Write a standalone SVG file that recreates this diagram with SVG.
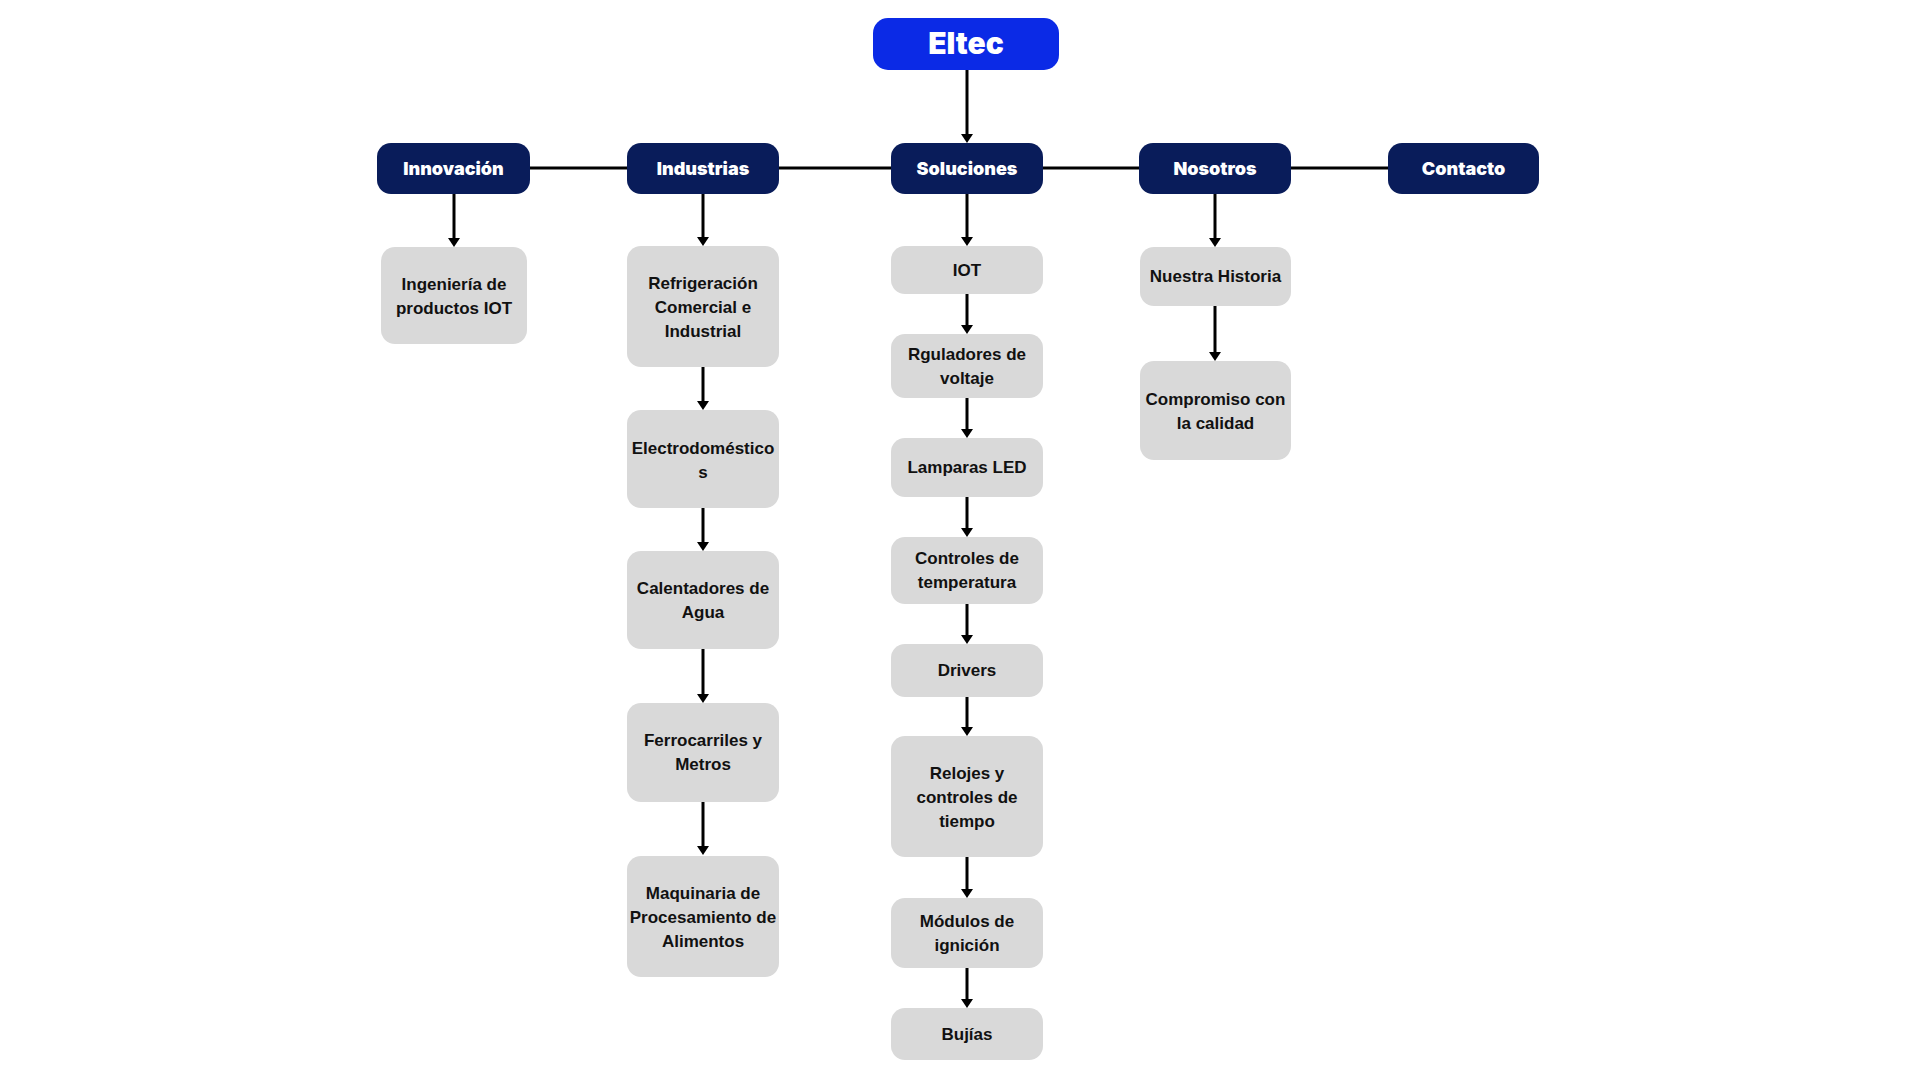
<svg xmlns="http://www.w3.org/2000/svg" width="1920" height="1080" viewBox="0 0 1920 1080">
<style>
.bg{fill:#ffffff}
.root rect{fill:#0b2ae6}
.root text{fill:#ffffff;font-family:Inter,"Liberation Sans",sans-serif;font-weight:900;font-size:30px;text-anchor:middle}
.hdr rect{fill:#091c5a}
.hdr text{fill:#ffffff;font-family:Inter,"Liberation Sans",sans-serif;font-weight:900;font-size:18px;text-anchor:middle}
.leaf rect{fill:#d9d9d9}
.leaf text{fill:#111111;font-family:"Liberation Sans",Arial,sans-serif;font-weight:bold;font-size:17px;text-anchor:middle}
.conn line{stroke:#000000;stroke-width:3}
</style>
<defs>
<marker id="ah" markerUnits="userSpaceOnUse" markerWidth="9" markerHeight="12" refX="1" refY="6" orient="auto">
<path d="M0,0 L9,6 L0,12 z" fill="#000000"/>
</marker>
</defs>
<rect class="bg" x="0" y="0" width="1920" height="1080"/>

<g id="connectors" class="conn">
<line x1="967" y1="70" x2="967" y2="135" marker-end="url(#ah)"/>
<line x1="530" y1="168" x2="627" y2="168"/>
<line x1="779" y1="168" x2="891" y2="168"/>
<line x1="1043" y1="168" x2="1139" y2="168"/>
<line x1="1291" y1="168" x2="1388" y2="168"/>
<line x1="454" y1="194" x2="454" y2="239" marker-end="url(#ah)"/>
<line x1="703" y1="194" x2="703" y2="238" marker-end="url(#ah)"/>
<line x1="703" y1="367" x2="703" y2="402" marker-end="url(#ah)"/>
<line x1="703" y1="508" x2="703" y2="543" marker-end="url(#ah)"/>
<line x1="703" y1="649" x2="703" y2="695" marker-end="url(#ah)"/>
<line x1="703" y1="802" x2="703" y2="847" marker-end="url(#ah)"/>
<line x1="967" y1="194" x2="967" y2="238" marker-end="url(#ah)"/>
<line x1="967" y1="294" x2="967" y2="326" marker-end="url(#ah)"/>
<line x1="967" y1="398" x2="967" y2="430" marker-end="url(#ah)"/>
<line x1="967" y1="497" x2="967" y2="529" marker-end="url(#ah)"/>
<line x1="967" y1="604" x2="967" y2="636" marker-end="url(#ah)"/>
<line x1="967" y1="697" x2="967" y2="728" marker-end="url(#ah)"/>
<line x1="967" y1="857" x2="967" y2="890" marker-end="url(#ah)"/>
<line x1="967" y1="968" x2="967" y2="1000" marker-end="url(#ah)"/>
<line x1="1215" y1="194" x2="1215" y2="239" marker-end="url(#ah)"/>
<line x1="1215" y1="306" x2="1215" y2="353" marker-end="url(#ah)"/>
</g>

<g id="eltec" class="root"><rect x="873" y="18" width="186" height="52" rx="15"/><text x="966" y="54">Eltec</text></g>

<g id="innovacion" class="hdr"><rect x="377" y="143" width="153" height="51" rx="14"/><text x="453.5" y="175">Innovación</text></g>
<g id="industrias" class="hdr"><rect x="627" y="143" width="152" height="51" rx="14"/><text x="703" y="175">Industrias</text></g>
<g id="soluciones" class="hdr"><rect x="891" y="143" width="152" height="51" rx="14"/><text x="967" y="175">Soluciones</text></g>
<g id="nosotros" class="hdr"><rect x="1139" y="143" width="152" height="51" rx="14"/><text x="1215" y="175">Nosotros</text></g>
<g id="contacto" class="hdr"><rect x="1388" y="143" width="151" height="51" rx="14"/><text x="1463.5" y="175">Contacto</text></g>

<g id="ingenieria" class="leaf"><rect x="381" y="247" width="146" height="97" rx="14"/><text x="454" y="290">Ingeniería de</text><text x="454" y="314">productos IOT</text></g>

<g id="refrigeracion" class="leaf"><rect x="627" y="246" width="152" height="121" rx="14"/><text x="703" y="289">Refrigeración</text><text x="703" y="313">Comercial e</text><text x="703" y="337">Industrial</text></g>
<g id="electrodomesticos" class="leaf"><rect x="627" y="410" width="152" height="98" rx="14"/><text x="703" y="454">Electrodoméstico</text><text x="703" y="478">s</text></g>
<g id="calentadores" class="leaf"><rect x="627" y="551" width="152" height="98" rx="14"/><text x="703" y="594">Calentadores de</text><text x="703" y="618">Agua</text></g>
<g id="ferrocarriles" class="leaf"><rect x="627" y="703" width="152" height="99" rx="14"/><text x="703" y="746">Ferrocarriles y</text><text x="703" y="770">Metros</text></g>
<g id="maquinaria" class="leaf"><rect x="627" y="856" width="152" height="121" rx="14"/><text x="703" y="899">Maquinaria de</text><text x="703" y="923">Procesamiento de</text><text x="703" y="947">Alimentos</text></g>

<g id="iot" class="leaf"><rect x="891" y="246" width="152" height="48" rx="14"/><text x="967" y="276">IOT</text></g>
<g id="reguladores" class="leaf"><rect x="891" y="334" width="152" height="64" rx="14"/><text x="967" y="360">Rguladores de</text><text x="967" y="384">voltaje</text></g>
<g id="lamparas" class="leaf"><rect x="891" y="438" width="152" height="59" rx="14"/><text x="967" y="473">Lamparas LED</text></g>
<g id="controles" class="leaf"><rect x="891" y="537" width="152" height="67" rx="14"/><text x="967" y="564">Controles de</text><text x="967" y="588">temperatura</text></g>
<g id="drivers" class="leaf"><rect x="891" y="644" width="152" height="53" rx="14"/><text x="967" y="676">Drivers</text></g>
<g id="relojes" class="leaf"><rect x="891" y="736" width="152" height="121" rx="14"/><text x="967" y="779">Relojes y</text><text x="967" y="803">controles de</text><text x="967" y="827">tiempo</text></g>
<g id="modulos" class="leaf"><rect x="891" y="898" width="152" height="70" rx="14"/><text x="967" y="927">Módulos de</text><text x="967" y="951">ignición</text></g>
<g id="bujias" class="leaf"><rect x="891" y="1008" width="152" height="52" rx="14"/><text x="967" y="1040">Bujías</text></g>

<g id="historia" class="leaf"><rect x="1140" y="247" width="151" height="59" rx="14"/><text x="1215.5" y="282">Nuestra Historia</text></g>
<g id="compromiso" class="leaf"><rect x="1140" y="361" width="151" height="99" rx="14"/><text x="1215.5" y="429" dy="-24">Compromiso con</text><text x="1215.5" y="429">la calidad</text></g>
</svg>
